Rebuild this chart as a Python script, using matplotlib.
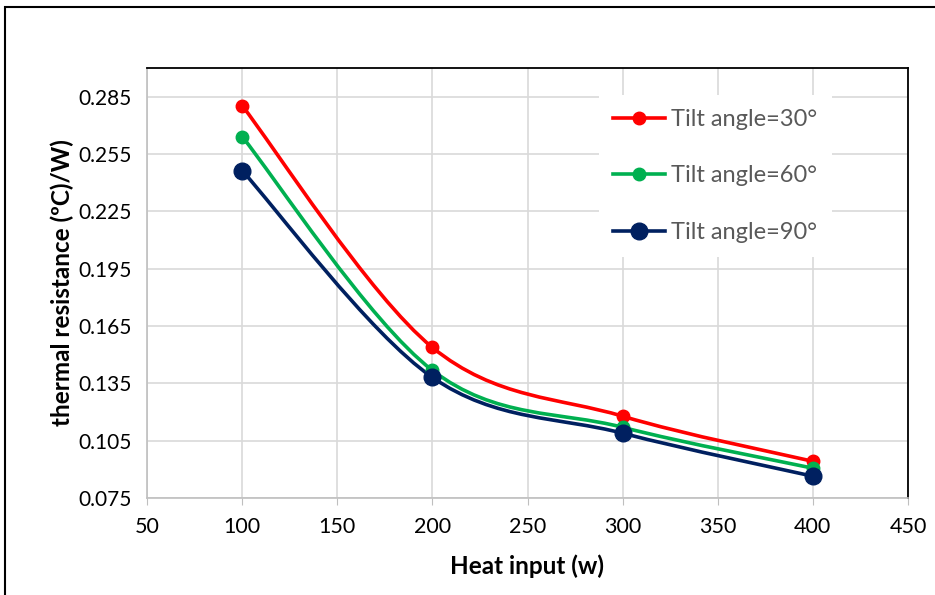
"""Thermal resistance vs heat input for three tilt angles (Excel-style smoothed lines)."""

import numpy as np
import matplotlib
matplotlib.use("Agg")
import matplotlib.pyplot as plt
from matplotlib.path import Path
from matplotlib.patches import PathPatch, Rectangle
from matplotlib.lines import Line2D

heat_input = [100, 200, 300, 400]
r_30 = [0.2803, 0.1538, 0.1178, 0.0942]
r_60 = [0.2641, 0.1418, 0.1120, 0.0906]
r_90 = [0.2463, 0.1381, 0.1089, 0.0864]
labels = ["Tilt angle=30°", "Tilt angle=60°", "Tilt angle=90°"]
colors = ["#FF0000", "#00B050", "#002060"]
marker_sizes = [9, 9, 12]

x_ticks = [50, 100, 150, 200, 250, 300, 350, 400, 450]
y_ticks = [0.075, 0.105, 0.135, 0.165, 0.195, 0.225, 0.255, 0.285]


def smooth_path(x, y):
    """Bezier path through the points, like Excel's smoothed line."""
    pts = np.column_stack([x, y]).astype(float)
    verts = [pts[0]]
    codes = [Path.MOVETO]
    n = len(pts)
    for i in range(n - 1):
        p0 = pts[i - 1] if i > 0 else pts[i]
        p1 = pts[i]
        p2 = pts[i + 1]
        p3 = pts[i + 2] if i + 2 < n else pts[i + 1]
        c1 = p1 + (p2 - p0) / 6.0
        c2 = p2 - (p3 - p1) / 6.0
        verts += [c1, c2, p2]
        codes += [Path.CURVE4] * 3
    return Path(verts, codes)


plt.rcParams["font.family"] = ["Lato", "DejaVu Sans"]

fig = plt.figure(figsize=(9.35, 5.95), dpi=100)
ax = fig.add_axes([147 / 935, 1 - 498 / 595, (908 - 147) / 935, (498 - 68) / 595])

for ys, c, ms, lab in zip([r_30, r_60, r_90], colors, marker_sizes, labels):
    ax.add_patch(PathPatch(smooth_path(heat_input, ys), facecolor="none",
                           edgecolor=c, lw=2.6, zorder=3))
    ax.plot(heat_input, ys, linestyle="none", marker="o", color=c,
            markersize=ms, zorder=4)

ax.set_xlim(50, 450)
ax.set_ylim(0.075, 0.3)
ax.set_xticks(x_ticks)
ax.set_yticks(y_ticks)
ax.set_yticklabels([f"{v:.3f}" for v in y_ticks])
ax.grid(True, color="#D9D9D9", lw=1.2, zorder=0)
ax.set_axisbelow(True)

for side in ["top", "right"]:
    ax.spines[side].set_color("black")
    ax.spines[side].set_linewidth(1.3)
for side in ["left", "bottom"]:
    ax.spines[side].set_color("#BFBFBF")
    ax.spines[side].set_linewidth(1.2)

ax.tick_params(axis="x", length=5, color="#BFBFBF", labelsize=15.5, pad=9,
               labelcolor="black")
ax.tick_params(axis="y", length=0, labelsize=15, pad=11, labelcolor="black")

ax.set_xlabel("Heat input (w)", fontsize=17.5, fontweight="bold", labelpad=12)
ax.set_ylabel("thermal resistance (ºC)/W)", fontsize=17.5, fontweight="bold",
              labelpad=3)

handles = [Line2D([0], [0], color=c, lw=2.6, marker="o", markersize=ms)
           for c, ms in zip(colors, marker_sizes)]
leg = ax.legend(handles, labels, loc="upper right", bbox_to_anchor=(0.915, 0.965),
                fontsize=17, frameon=True, fancybox=False, edgecolor="none",
                framealpha=1, labelspacing=1.5, handlelength=2.2,
                handletextpad=0.25, borderpad=0.6)
for t in leg.get_texts():
    t.set_color("#595959")

# outer chart border
fig.patches.append(Rectangle((5 / 935, -0.1), 1.2, 1 - 7 / 595 + 0.1,
                             transform=fig.transFigure, fill=False,
                             edgecolor="black", lw=1.5))

fig.savefig("out.png", dpi=100)
